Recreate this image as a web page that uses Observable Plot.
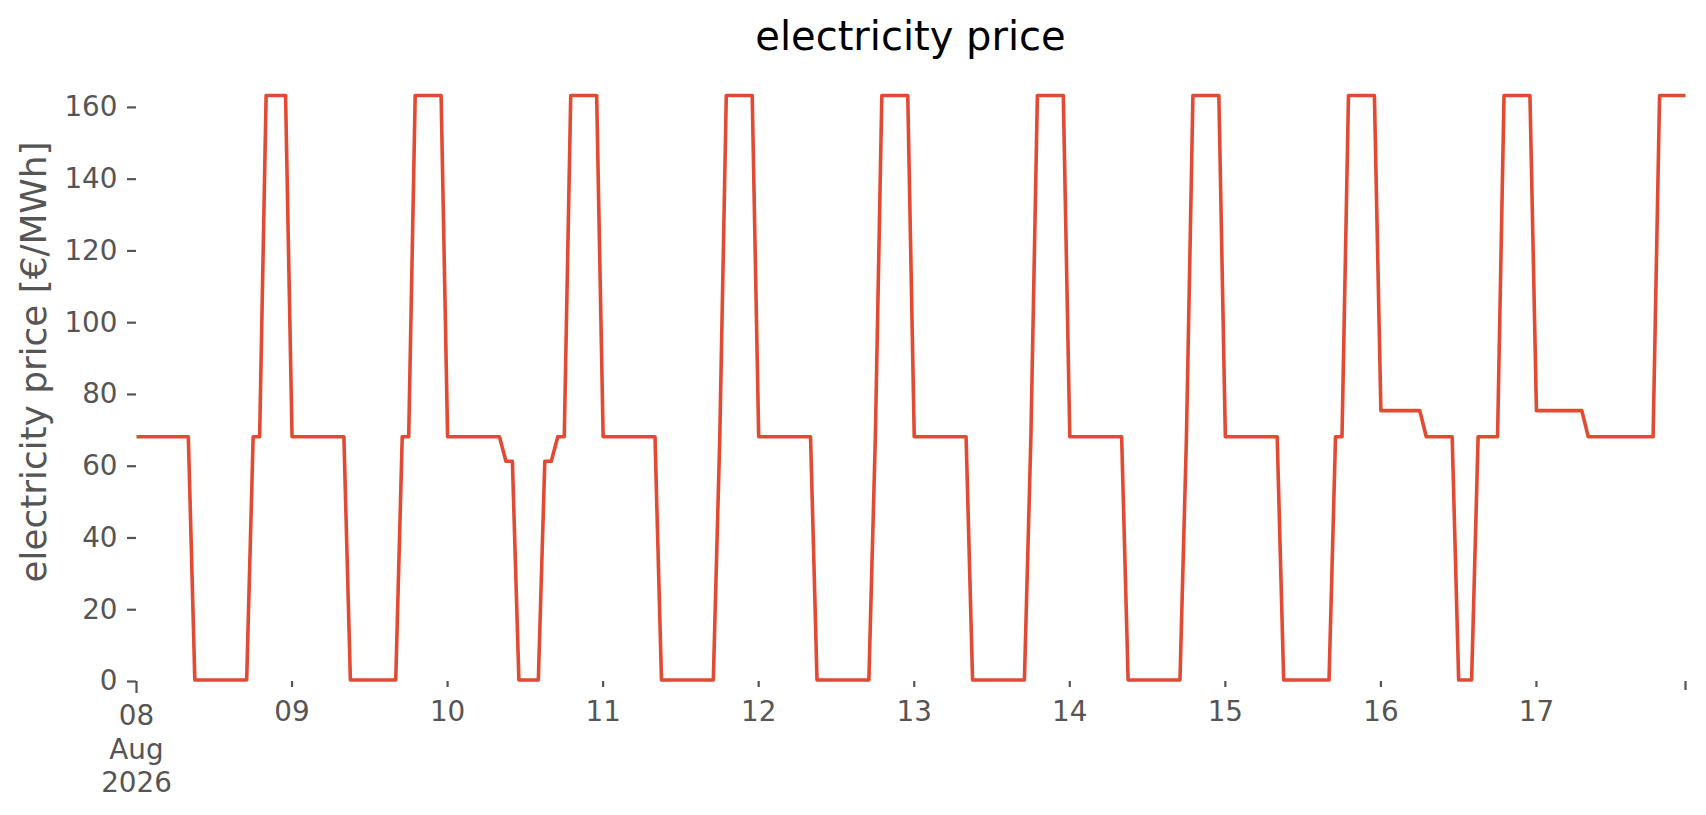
<!DOCTYPE html>
<html>
<head>
<meta charset="utf-8">
<script src="https://cdn.jsdelivr.net/npm/d3@7"></script>
<script src="https://cdn.jsdelivr.net/npm/@observablehq/plot@0.6"></script>
<style>
  html, body { margin: 0; padding: 0; background: #fff; overflow: hidden; }
  #fig { width: 1706px; height: 815px; font-family: "DejaVu Sans", sans-serif; }
  #title {
    box-sizing: border-box; width: 1706px; height: 60px;
    padding-top: 16px; padding-left: 115px;
    font-size: 40px; line-height: 40px; text-align: center; color: #000;
    font-family: "DejaVu Sans", sans-serif; white-space: nowrap;
  }
</style>
</head>
<body>
<div id="fig">
  <div id="title">electricity price</div>
</div>
<script>
// hourly electricity price [€/MWh], one array per day (hours 00..23)
const aug08 = [68.2,68.2,68.2,68.2,68.2,68.2,68.2,68.2,68.2, 0.4,0.4,0.4,0.4,0.4,0.4,0.4,0.4,0.4, 68.2,68.2, 163.3,163.3,163.3,163.3];
const aug09 = [68.2,68.2,68.2,68.2,68.2,68.2,68.2,68.2,68.2, 0.4,0.4,0.4,0.4,0.4,0.4,0.4,0.4, 68.2,68.2, 163.3,163.3,163.3,163.3,163.3];
const aug10 = [68.2,68.2,68.2,68.2,68.2,68.2,68.2,68.2,68.2, 61.4,61.4, 0.4,0.4,0.4,0.4, 61.4,61.4, 68.2,68.2, 163.3,163.3,163.3,163.3,163.3];
const aug11 = [68.2,68.2,68.2,68.2,68.2,68.2,68.2,68.2,68.2, 0.4,0.4,0.4,0.4,0.4,0.4,0.4,0.4,0.4, 68.2, 163.3,163.3,163.3,163.3,163.3];
const aug12 = [68.2,68.2,68.2,68.2,68.2,68.2,68.2,68.2,68.2, 0.4,0.4,0.4,0.4,0.4,0.4,0.4,0.4,0.4, 68.2, 163.3,163.3,163.3,163.3,163.3];
const aug13 = [68.2,68.2,68.2,68.2,68.2,68.2,68.2,68.2,68.2, 0.4,0.4,0.4,0.4,0.4,0.4,0.4,0.4,0.4, 68.2, 163.3,163.3,163.3,163.3,163.3];
const aug14 = [68.2,68.2,68.2,68.2,68.2,68.2,68.2,68.2,68.2, 0.4,0.4,0.4,0.4,0.4,0.4,0.4,0.4,0.4, 68.2, 163.3,163.3,163.3,163.3,163.3];
const aug15 = [68.2,68.2,68.2,68.2,68.2,68.2,68.2,68.2,68.2, 0.4,0.4,0.4,0.4,0.4,0.4,0.4,0.4, 68.2,68.2, 163.3,163.3,163.3,163.3,163.3];
const aug16 = [75.5,75.5,75.5,75.5,75.5,75.5,75.5, 68.2,68.2,68.2,68.2,68.2, 0.4,0.4,0.4, 68.2,68.2,68.2,68.2, 163.3,163.3,163.3,163.3,163.3];
const aug17 = [75.5,75.5,75.5,75.5,75.5,75.5,75.5,75.5, 68.2,68.2,68.2,68.2,68.2,68.2,68.2,68.2,68.2,68.2,68.2, 163.3,163.3,163.3,163.3,163.3];

const dayStarts = ["2026-08-08","2026-08-09","2026-08-10","2026-08-11","2026-08-12",
                   "2026-08-13","2026-08-14","2026-08-15","2026-08-16","2026-08-17"];
const days = [aug08, aug09, aug10, aug11, aug12, aug13, aug14, aug15, aug16, aug17];

// axis ticks
const yTicks = [0, 20, 40, 60, 80, 100, 120, 140, 160];
const majorTickDates = ["2026-08-08"];
const majorTickLabels = ["08\nAug\n2026"];
const minorTickDates = ["2026-08-09","2026-08-10","2026-08-11","2026-08-12","2026-08-13",
                        "2026-08-14","2026-08-15","2026-08-16","2026-08-17"];
const minorTickLabels = ["09","10","11","12","13","14","15","16","17"];
const endTickDates = ["2026-08-17T23:00:00Z"];

const yLabel = "electricity price [€/MWh]";

// build table
const rows = [];
days.forEach((vals, di) => {
  const d0 = new Date(dayStarts[di] + "T00:00:00Z").getTime();
  vals.forEach((v, h) => rows.push({time: new Date(d0 + h * 3600e3), price: v}));
});
const toDate = s => new Date(s.length === 10 ? s + "T00:00:00Z" : s);
const majorTicks = majorTickDates.map((d, i) => ({date: toDate(d), label: majorTickLabels[i]}));
const minorTicks = minorTickDates.map((d, i) => ({date: toDate(d), label: minorTickLabels[i]}));

const font = "DejaVu Sans, sans-serif";
const grey = "#555555";

const chart = Plot.plot({
  width: 1706,
  height: 755,
  marginLeft: 136,
  marginRight: 21,
  marginTop: 6,
  marginBottom: 134,
  style: {background: "#fff", color: grey, fontFamily: font, fontSize: "27.8px", overflow: "visible"},
  x: {type: "utc", domain: [rows[0].time, rows[rows.length - 1].time], axis: null},
  y: {domain: [0, 171.4], axis: null},
  marks: [
    Plot.axisY(yTicks, {tickSize: 9, tickPadding: 10, fontSize: 27.8, strokeWidth: 2.2, label: null, fontFamily: font}),
    Plot.axisX(minorTicks.map(d => d.date), {tickSize: 6, strokeWidth: 2.2, tickFormat: () => "", label: null}),
    Plot.axisX(majorTicks.map(d => d.date), {tickSize: 12, strokeWidth: 2.2, tickFormat: () => "", label: null}),
    Plot.axisX(endTickDates.map(toDate), {tickSize: 9, strokeWidth: 2.2, tickFormat: () => "", label: null}),
    Plot.text(minorTicks, {x: "date", text: "label", frameAnchor: "bottom", lineAnchor: "top", dy: 20,
      fontSize: 27.8, fill: grey, fontFamily: font, lineHeight: 1}),
    Plot.text(majorTicks, {x: "date", text: "label", frameAnchor: "bottom", lineAnchor: "top", dy: 20,
      fontSize: 27.8, fill: grey, fontFamily: font, lineHeight: 1.2}),
    Plot.text([yLabel], {text: d => d, frameAnchor: "left", textAnchor: "middle", lineAnchor: "middle",
      rotate: -90, dx: -102, dy: -12, fontSize: 35.8, fill: grey, fontFamily: font}),
    Plot.lineY(rows, {x: "time", y: "price", stroke: "#E24A33", strokeWidth: 3.6,
      strokeLinejoin: "round", strokeLinecap: "butt"})
  ]
});
document.getElementById("fig").appendChild(chart);
</script>
</body>
</html>
